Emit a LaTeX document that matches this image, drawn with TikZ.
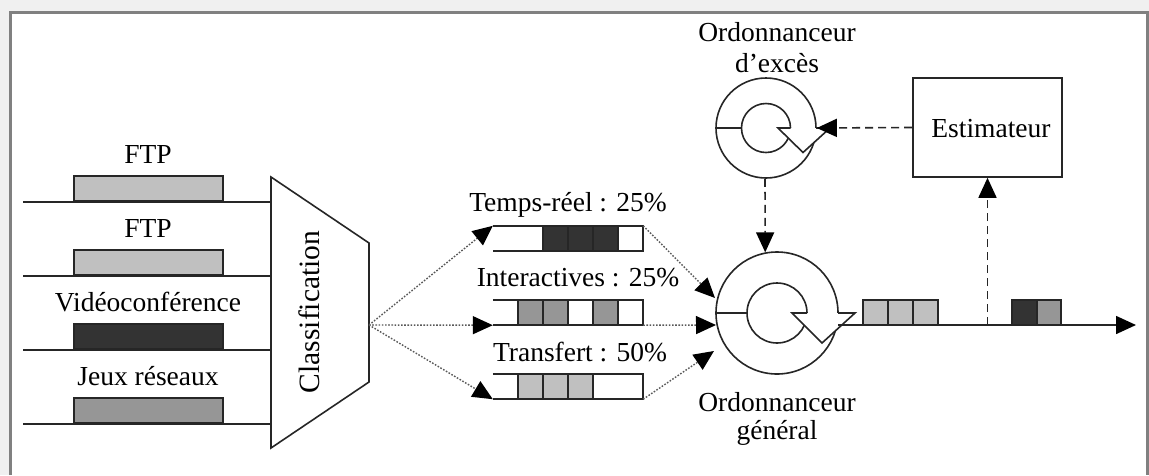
\documentclass[tikz,border=0pt]{standalone}
\usepackage{fontspec}
\setmainfont{Liberation Serif}
\usetikzlibrary{arrows.meta}
\definecolor{lgray}{HTML}{C0C0C0}
\definecolor{mgray}{HTML}{969696}
\definecolor{dgray}{HTML}{333333}
\definecolor{bggray}{HTML}{F0F0F0}
\definecolor{framegray}{HTML}{808080}
\definecolor{inkc}{HTML}{262626}
\begin{document}
\begin{tikzpicture}[x=1pt,y=-1pt,
  lbl/.style={font=\fontsize{27.5}{30}\selectfont, inner sep=0pt, text=black},
  ln/.style={line width=1.6pt, draw=inkc},
  pkt/.style={draw=inkc, line width=1.6pt, minimum width=149pt, minimum height=25pt, inner sep=0pt, anchor=south west},
  cell/.style={draw=inkc, line width=1.6pt},
  queue/.style={minimum width=150pt, minimum height=25pt, inner sep=0pt},
  tip/.style={-{Triangle[length=20pt,width=18pt,color=black,fill=black]}},
  dotl/.style={line width=1.4pt, draw=black!65, dash pattern=on 1.6pt off 1.6pt},
  dashl/.style={line width=1.6pt, draw=inkc, dash pattern=on 8pt off 5pt},
]
\useasboundingbox (0,0) rectangle (1149,475);
\fill[bggray] (0,0) rectangle (1149,475);
\fill[white] (10.5,12) rectangle (1147.5,475);
\draw[line width=3pt, draw=framegray] (10.5,475) -- (10.5,12) -- (1147.5,12) -- (1147.5,475);

% ---- input flows
\foreach \y/\c/\t/\n in {202/lgray/FTP/a, 276/lgray/FTP/b, 350/dgray/Vidéoconférence/c, 424/mgray/Jeux réseaux/d}{
  \coordinate (in\n) at (23,\y);
  \coordinate (cl\n) at (271,\y);
  \draw[ln] (in\n) -- (cl\n);
  \node[pkt, fill=\c] (p\n) at (73,\y) {};
  \node[lbl] (l\n) at (148,\y-48) {\t};
}

% ---- classifier
\draw[ln, fill=white] (271,177) -- (369,243) -- (369,382) -- (271,448) -- cycle;
\node[lbl, font=\fontsize{29.5}{32}\selectfont, rotate=90] (cls) at (309,312) {Classification};
\coordinate (fan) at (369,325);

% ---- queues
\node[queue] (q1) at (568,238.5) {};
\node[queue] (q2) at (568,312.5) {};
\node[queue] (q3) at (568,386.5) {};
% queue 1: cells
\foreach \x in {543,568,593}{\filldraw[cell, fill=dgray] (\x,226) rectangle (\x+25,251);}
\draw[cell] (618,226) -- (618,251);
% queue 2
\foreach \x in {518,543,593}{\filldraw[cell, fill=mgray] (\x,300) rectangle (\x+25,325);}
\draw[cell] (618,300) -- (618,325);
% queue 3
\foreach \x in {518,543,568}{\filldraw[cell, fill=lgray] (\x,374) rectangle (\x+25,399);}
\foreach \q in {q1,q2,q3}{
  \draw[ln] (\q.north west) -- (\q.north east) -- (\q.south east) -- (\q.south west);
}
\node[lbl] (t1) at (568,205) {Temps-réel : 25\%};
\node[lbl] (t2) at (578,278) {Interactives : 25\%};
\node[lbl] (t3) at (580,352) {Transfert : 50\%};

% ---- general scheduler
\node[circle, minimum size=122pt, inner sep=0pt, draw=inkc, line width=1.6pt] (gs) at (777,313) {};
\draw[ln] (777,313) circle[radius=30];
\draw[ln] (gs.west) -- (747,313);
\fill[white] (792,313) -- (822,343) -- (855,313) -- cycle;
\draw[ln, line join=miter] (807,313) -- (792,313) -- (822,343) -- (855,313) -- (838,313);
\node[lbl] (gs1) at (777,402) {Ordonnanceur};
\node[lbl] (gs2) at (777,433) {général};

% ---- excess scheduler
\node[circle, minimum size=100pt, inner sep=0pt, draw=inkc, line width=1.6pt] (es) at (766,128) {};
\draw[ln] (766,128) circle[radius=24.5];
\draw[ln] (es.west) -- (741.5,128);
\fill[white] (778,128) -- (803,152.5) -- (830,128) -- cycle;
\draw[ln, line join=miter] (790.5,128) -- (778,128) -- (803,152.5) -- (830,128) -- (816,128);
\node[lbl] (es1) at (777,32) {Ordonnanceur};
\node[lbl] (es2) at (777,63) {d’excès};

% ---- estimator
\node[draw=inkc, line width=1.6pt, minimum width=149pt, minimum height=99pt, inner sep=0pt] (est) at (987.5,127.5) {};
\node[lbl] (estl) at (991,129) {Estimateur};

% ---- dotted connectors
\coordinate (g1) at (715,298);
\coordinate (g2) at (716,325);
\coordinate (g3) at (714,351);
\draw[dotl, tip] (fan) -- (q1.north west);
\draw[dotl, tip] (fan) -- (q2.south west);
\draw[dotl, tip] (fan) -- (q3.south west);
\draw[dotl, tip] (q1.north east) -- (g1);
\draw[dotl, tip] (q2.south east) -- (g2);
\draw[dotl, tip] (q3.south east) -- (g3);

% ---- output line
\coordinate (o1) at (838,325);
\coordinate (o2) at (1136,325);
\coordinate (tap) at (987.5,325);
\draw[ln, tip] (o1) -- (o2);
\foreach \x in {863,888,913}{\filldraw[cell, fill=lgray] (\x,300) rectangle (\x+25,325);}
\filldraw[cell, fill=dgray] (1012,300) rectangle (1037,325);
\filldraw[cell, fill=mgray] (1037,300) rectangle (1061,325);

% ---- dashed connectors
\draw[dashl, tip] (est.west) -- (es.east);
\draw[dashl, tip] (es.south -| 765,0) -- (gs.101);
\draw[dashl, tip] (tap) -- (est.south);
\end{tikzpicture}
\end{document}
